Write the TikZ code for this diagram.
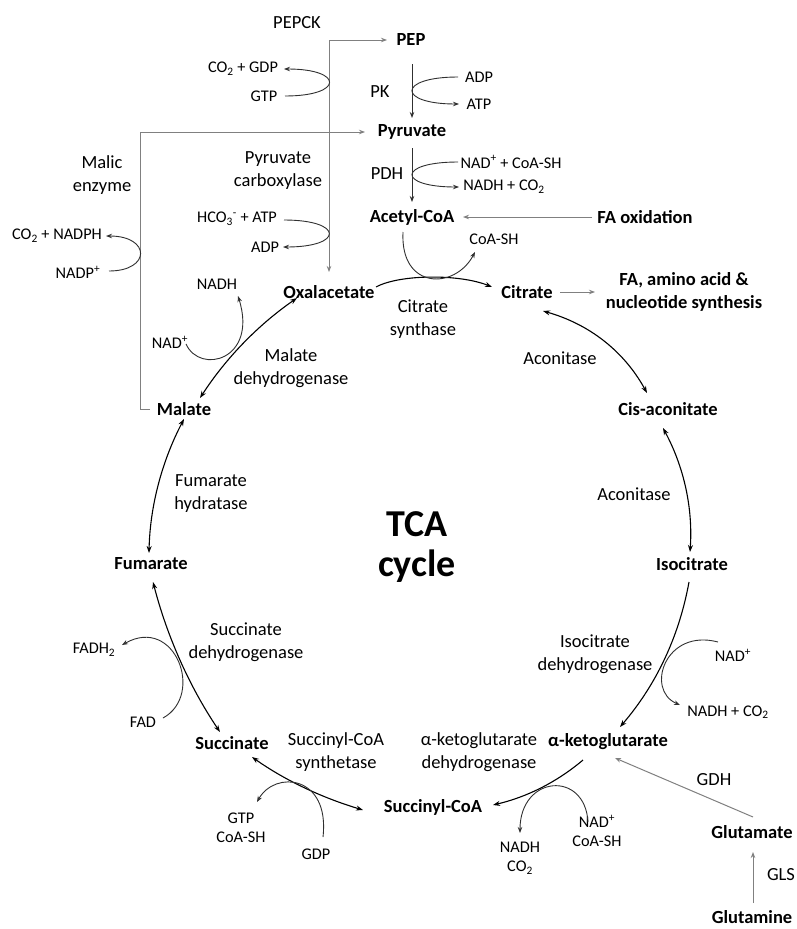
\documentclass[tikz,border=0pt]{standalone}
\usepackage{fontspec}
\setmainfont{Carlito}
\usepackage{tikz}
\usetikzlibrary{arrows.meta}
\definecolor{sideGray}{HTML}{808080}
\definecolor{cofGray}{HTML}{303030}
\tikzset{
    metab/.style={font=\fontsize{18.5}{23}\selectfont\bfseries, inner sep=2pt, align=center},
    enzLbl/.style={font=\fontsize{18.5}{23}\selectfont, inner sep=2pt, align=center},
    cofLbl/.style={font=\fontsize{16.3}{19}\selectfont, inner sep=2pt, align=center},
    cycleArr/.style={-{Stealth[length=7pt,width=5pt]}, line width=1.1pt},
    cycleDbl/.style={{Stealth[length=7pt,width=5pt]}-{Stealth[length=7pt,width=5pt]}, line width=1.1pt},
    cofArr/.style={-{Stealth[length=6pt,width=4.5pt]}, line width=0.9pt, draw=cofGray},
    stepArr/.style={-{Stealth[length=6pt,width=4.5pt]}, line width=0.9pt, draw=cofGray},
    sideArr/.style={-{Stealth[length=6pt,width=4.5pt]}, line width=1pt, draw=sideGray},
}

\begin{document}
\begin{tikzpicture}[x=1pt,y=1pt]
\path[use as bounding box, fill=white] (0,0) rectangle (796,-929);

% ---------------- metabolites ----------------
\node[metab] (pep)    at (411,-40)  {PEP};
\node[metab] (pyr)    at (412,-132) {Pyruvate};
\node[metab] (acoa)   at (412,-217) {Acetyl-CoA};
\node[metab] (faox)   at (645,-217) {FA oxidation};
\node[metab] (oaa)    at (329,-292) {Oxalacetate};
\node[metab] (cit)    at (527,-292) {Citrate};
\node[metab] (fasyn)  at (684,-292) {FA, amino acid \&\\nucleotide synthesis};
\node[metab] (mal)    at (184,-409) {Malate};
\node[metab] (cisaco) at (668,-409) {Cis-aconitate};
\node[metab] (fum)    at (151,-564) {Fumarate};
\node[metab] (iso)    at (692,-564) {Isocitrate};
\node[metab] (succ)   at (232,-743) {Succinate};
\node[metab] (akg)    at (608,-742) {α-ketoglutarate};
\node[metab] (succoa) at (433,-807) {Succinyl-CoA};
\node[metab] (glu)    at (752,-832) {Glutamate};
\node[metab] (gln)    at (752,-917) {Glutamine};
\node[font=\fontsize{38}{40}\selectfont\bfseries, align=center] (tca) at (417,-547) {TCA\\cycle};

% ---------------- enzymes ----------------
\node[enzLbl] (pepck) at (297,-23)  {PEPCK};
\node[enzLbl] (pk)    at (380,-92)  {PK};
\node[enzLbl] (pdh)   at (387,-174) {PDH};
\node[enzLbl] (pcx)   at (278,-171) {Pyruvate\\carboxylase};
\node[enzLbl] (malic) at (102,-175) {Malic\\enzyme};
\node[enzLbl] (cs)    at (423,-319) {Citrate\\synthase};
\node[enzLbl] (mdh)   at (291,-368) {Malate\\dehydrogenase};
\node[enzLbl] (aco1)  at (560,-358) {Aconitase};
\node[enzLbl] (fh)    at (211,-494) {Fumarate\\hydratase};
\node[enzLbl] (aco2)  at (634,-494) {Aconitase};
\node[enzLbl] (sdh)   at (246,-642) {Succinate\\dehydrogenase};
\node[enzLbl] (idh)   at (595,-654) {Isocitrate\\dehydrogenase};
\node[enzLbl] (scs)   at (336,-752) {Succinyl-CoA\\synthetase};
\node[enzLbl] (akgdh) at (479,-752) {α-ketoglutarate\\dehydrogenase};
\node[enzLbl] (gdh)   at (714,-780) {GDH};
\node[enzLbl] (gls)   at (781,-875) {GLS};

% ---------------- cofactors ----------------
\node[cofLbl] (co2gdp)   at (243,-69)  {CO\textsubscript{2} + GDP};
\node[cofLbl] (gtp1)     at (264,-96)  {GTP};
\node[cofLbl] (adp1)     at (479,-77)  {ADP};
\node[cofLbl] (atp1)     at (479,-104) {ATP};
\node[cofLbl] (nadcoa1)  at (511,-162) {NAD\textsuperscript{+} + CoA-SH};
\node[cofLbl] (nadhco2a) at (504,-187) {NADH + CO\textsubscript{2}};
\node[cofLbl] (hco3)     at (237,-219) {HCO\textsubscript{3}\textsuperscript{-} + ATP};
\node[cofLbl] (adp2)     at (265,-247) {ADP};
\node[cofLbl] (co2nadph) at (57,-236)  {CO\textsubscript{2} + NADPH};
\node[cofLbl] (nadp)     at (78,-272)  {NADP\textsuperscript{+}};
\node[cofLbl] (coash1)   at (494,-239) {CoA-SH};
\node[cofLbl] (nadh1)    at (217,-284) {NADH};
\node[cofLbl] (nad1)     at (170,-342) {NAD\textsuperscript{+}};
\node[cofLbl] (fadh2)    at (94,-650)  {FADH\textsubscript{2}};
\node[cofLbl] (fad)      at (143,-722) {FAD};
\node[cofLbl] (nad2)     at (733,-655) {NAD\textsuperscript{+}};
\node[cofLbl] (nadhco2b) at (728,-712) {NADH + CO\textsubscript{2}};
\node[cofLbl] (gtpcoa)   at (241,-828) {GTP\\CoA-SH};
\node[cofLbl] (gdp)      at (316,-854) {GDP};
\node[cofLbl] (nadhco2c) at (520,-858) {NADH\\CO\textsubscript{2}};
\node[cofLbl] (nadcoa2)  at (597,-831) {NAD\textsuperscript{+}\\CoA-SH};

% ---------------- side routes ----------------
\coordinate (pcTop) at (329,-40);
\draw[sideArr] (pcTop) -- ([shift={(-24,0)}]pep.center);
\draw[sideArr] (pcTop) -- ([shift={(0,20)}]oaa.center);
\draw[sideArr] ([shift={(-34,0)}]mal.center) -- ++(-10,0) |- ([shift={(-47,0)}]pyr.center);
\draw[sideArr] ([shift={(-53,0)}]faox.center) -- ([shift={(51,0)}]acoa.center);
\draw[sideArr] ([shift={(33,0)}]cit.center) -- ([shift={(-89,0)}]fasyn.center);
\draw[sideArr] ([shift={(1,15)}]glu.center) -- ([shift={(7,-16)}]akg.center);
\draw[sideArr] ([shift={(1,14)}]gln.center) -- ([shift={(1,-20)}]glu.center);
\draw[stepArr] ([shift={(1,-24)}]pep.center) -- ([shift={(0,14)}]pyr.center);
\draw[stepArr] ([shift={(0,-16)}]pyr.center) -- ([shift={(0,15)}]acoa.center);

% cofactor loops on the side routes
\draw[cofArr] ([shift={(21,0)}]gtp1.center) .. controls (344,-96) and (344,-69) .. ([shift={(41,0)}]co2gdp.center);
\draw[cofArr] ([shift={(-21,0)}]adp1.center) .. controls (397,-77) and (397,-104) .. ([shift={(-20,0)}]atp1.center);
\draw[cofArr] ([shift={(-53,0)}]nadcoa1.center) .. controls (397,-162) and (397,-187) .. ([shift={(-45,0)}]nadhco2a.center);
\draw[cofArr] ([shift={(47,-1)}]hco3.center) .. controls (344,-220) and (344,-247) .. ([shift={(18,0)}]adp2.center);
\draw[cofArr] ([shift={(31,1)}]nadp.center) .. controls (151,-271) and (151,-236) .. ([shift={(49,0)}]co2nadph.center);

% ---------------- TCA cycle ----------------
\draw[cycleArr] ([shift={(47,5)}]oaa.center) .. controls (400,-274) and (460,-274) .. ([shift={(-35,5)}]cit.center);
\draw[cycleDbl] ([shift={(16,-19)}]cit.center) .. controls (589,-324) and (624,-351) .. ([shift={(-21,16)}]cisaco.center);
\draw[cycleDbl] ([shift={(-5,-19)}]cisaco.center) .. controls (684,-467) and (693,-508) .. ([shift={(-2,12)}]iso.center);
\draw[cycleArr] ([shift={(-3,-18)}]iso.center) .. controls (679,-637) and (656,-685) .. ([shift={(12,15)}]akg.center);
\draw[cycleArr] ([shift={(-25,-18)}]akg.center) .. controls (557,-782) and (527,-797) .. ([shift={(60,2)}]succoa.center);
\draw[cycleDbl] ([shift={(-70,-3)}]succoa.center) .. controls (323,-798) and (286,-781) .. ([shift={(20,-14)}]succ.center);
\draw[cycleDbl] ([shift={(2,-18)}]fum.center) .. controls (167,-636) and (189,-686) .. ([shift={(-12,11)}]succ.center);
\draw[cycleDbl] ([shift={(0,-10)}]mal.center) .. controls (162,-461) and (150,-506) .. ([shift={(-2,11)}]fum.center);
\draw[cycleDbl] ([shift={(-32,-6)}]oaa.center) .. controls (258,-325) and (226,-358) .. ([shift={(16,11)}]mal.center);

% cofactor loops on the cycle
\draw[cofArr] ([shift={(-9,-15)}]acoa.center) .. controls (400,-290) and (455,-290) .. ([shift={(-19,-13)}]coash1.center);
\draw[cofArr] ([shift={(-15,13)}]nad2.center) .. controls (665,-628) and (645,-690) .. ([shift={(-48,7)}]nadhco2b.center);
\draw[cofArr] ([shift={(-9,9)}]nadcoa2.center) .. controls (585,-770) and (520,-775) .. ([shift={(0,25)}]nadhco2c.center);
\draw[cofArr] ([shift={(7,17)}]gdp.center) .. controls (330,-775) and (275,-770) .. ([shift={(16,26)}]gtpcoa.center);
\draw[cofArr] ([shift={(20,4)}]fad.center) .. controls (205,-695) and (175,-615) .. ([shift={(28,5)}]fadh2.center);
\draw[cofArr] ([shift={(16,-2)}]nad1.center) .. controls (200,-375) and (258,-360) .. ([shift={(21,-12)}]nadh1.center);

\end{tikzpicture}
\end{document}
